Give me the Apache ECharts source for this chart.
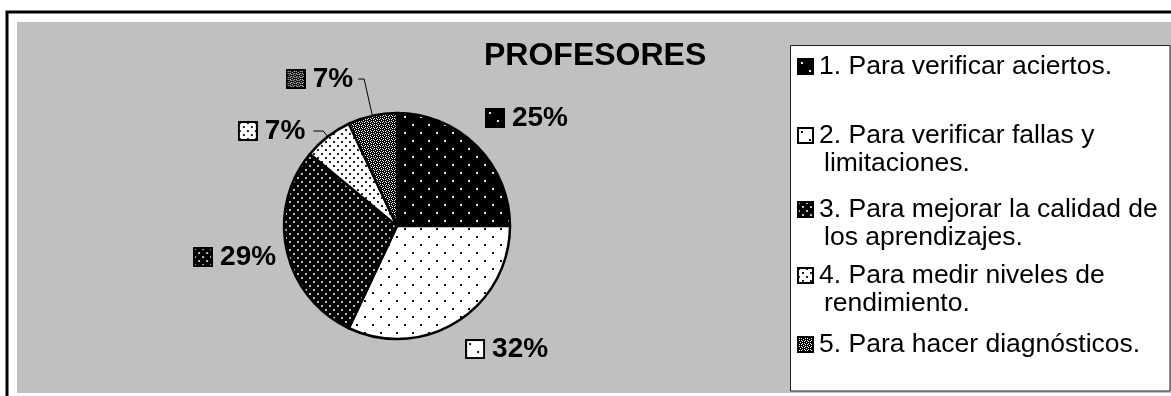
<!DOCTYPE html>
<html>
<head>
<meta charset="utf-8">
<script src="https://cdn.jsdelivr.net/npm/echarts@6/dist/echarts.min.js"></script>
<style>
html,body{margin:0;padding:0;background:#fff;}
#c{width:1171px;height:396px;}
</style>
</head>
<body>
<div id="c"></div>
<script>
// ---- data ----
const titleText = 'PROFESORES';
const categories = [
  '1. Para verificar aciertos.',
  '2. Para verificar fallas y limitaciones.',
  '3. Para mejorar la calidad de los aprendizajes.',
  '4. Para medir niveles de rendimiento.',
  '5. Para hacer diagnósticos.'
];
const legendLines = [
  ['1. Para verificar aciertos.'],
  ['2. Para verificar fallas y', 'limitaciones.'],
  ['3. Para mejorar la calidad de', 'los aprendizajes.'],
  ['4. Para medir niveles de', 'rendimiento.'],
  ['5. Para hacer diagnósticos.']
];
const values = [25, 32, 29, 7, 7];

// ---- patterns ----
const FONT = "'Liberation Sans', Arial, Helvetica, sans-serif";
function makeTile(type) {
  const c = document.createElement('canvas');
  const ctx = c.getContext('2d');
  if (type === 0 || type === 1) {
    c.width = 16; c.height = 16;
    ctx.fillStyle = type === 0 ? '#000' : '#fff';
    ctx.fillRect(0, 0, 16, 16);
    ctx.fillStyle = type === 0 ? '#e8e8e8' : '#111';
    ctx.fillRect(4, 4, 2, 2);
    ctx.fillRect(12, 12, 2, 2);
  } else if (type === 2 || type === 3) {
    c.width = 8; c.height = 8;
    ctx.fillStyle = type === 2 ? '#000' : '#fff';
    ctx.fillRect(0, 0, 8, 8);
    ctx.fillStyle = type === 2 ? '#bdbdbd' : '#222';
    ctx.fillRect(1, 1, 2, 2);
    ctx.fillRect(5, 5, 2, 2);
  } else {
    c.width = 6; c.height = 6;
    const img = ctx.createImageData(6, 6);
    for (let y = 0; y < 6; y++) {
      for (let x = 0; x < 6; x++) {
        const a = (x + y) % 6, b = ((x - y) % 6 + 6) % 6;
        let v = (a === 0 || b === 0) ? 255 : 0;
        if ((x === 0 && y === 0) || (x === 3 && y === 3)) v = 0;
        if (a === 3 && b === 3) v = 255;
        const k = (y * 6 + x) * 4;
        img.data[k] = img.data[k + 1] = img.data[k + 2] = v;
        img.data[k + 3] = 255;
      }
    }
    ctx.putImageData(img, 0, 0);
  }
  return c;
}
const tiles = values.map((v, i) => makeTile(i));
function makeIcon(i, s) {
  const c = document.createElement('canvas');
  c.width = s; c.height = s;
  const ctx = c.getContext('2d');
  ctx.fillStyle = ctx.createPattern(tiles[i], 'repeat');
  ctx.fillRect(0, 0, s, s);
  ctx.strokeStyle = '#000';
  ctx.lineWidth = 2;
  ctx.strokeRect(1, 1, s - 2, s - 2);
  return c;
}
const labelIcons = values.map((v, i) => makeIcon(i, 20));
const legendIcons = values.map((v, i) => makeIcon(i, 17));

// ---- label guide geometry (library outside-label layout) ----
const labelLineCfg = [
  { show: false, length: 39.7, length2: -25 },
  { show: false, length: 32.7, length2: -15 },
  { show: false, length: 29.3, length2: -23 },
  { show: true, length: 7.2, length2: 10 },
  { show: true, length: 37.6, length2: 6 }
];
const labelDist = [5, 5, 5, 8, 5];
const legendCenters = [67, 136, 210, 276, 345];

const labelRich = { v: { fontSize: 28, fontWeight: 'bold', fontFamily: FONT, color: '#000', padding: [0, 0, 0, 7] } };
labelIcons.forEach((c, i) => { labelRich['i' + i] = { width: 20, height: 20, backgroundColor: { image: c } }; });
const legendRich = {
  t: { fontSize: 26.5, fontFamily: FONT, color: '#000', lineHeight: 28, padding: [0, 0, 0, 5] },
  sp: { width: 22, lineHeight: 28 }
};
legendIcons.forEach((c, i) => { legendRich['ic' + i] = { width: 17, height: 17, backgroundColor: { image: c } }; });

const chart = echarts.init(document.getElementById('c'), null, { renderer: 'canvas' });
chart.setOption({
  animation: false,
  backgroundColor: '#fff',
  title: {
    text: titleText, left: 484, top: 40.5, padding: 0,
    textStyle: { fontSize: 32, fontWeight: 'bold', fontFamily: FONT, color: '#000' }
  },
  graphic: {
    elements: [
      { type: 'rect', z: -20, silent: true, shape: { x: 17, y: 22, width: 1160, height: 371 }, style: { fill: '#c0c0c0' } },
      { type: 'polyline', z: -19, silent: true, shape: { points: [[7, 400], [7, 12], [1175, 12]] }, style: { stroke: '#000', lineWidth: 3, fill: null } },
      { type: 'rect', z: -18, silent: true, shape: { x: 790.5, y: 45.5, width: 379.5, height: 345.5 }, style: { fill: '#fff', stroke: '#222', lineWidth: 1 } }
    ]
  },
  legend: categories.map((name, i) => ({
    orient: 'vertical', left: 791, top: legendCenters[i] - 14, padding: 0,
    itemWidth: 0, itemHeight: 0, itemGap: 0, selectedMode: false,
    data: [name],
    formatter: n => legendLines[categories.indexOf(n)]
      .map((l, k) => (k === 0 ? '{ic' + categories.indexOf(n) + '|}' : '{sp|}') + '{t|' + l + '}').join('\n'),
    textStyle: { color: '#000', rich: legendRich }
  })),
  series: [{
    type: 'pie',
    center: [397, 226],
    radius: 113,
    startAngle: 90,
    clockwise: true,
    avoidLabelOverlap: false,
    silent: true,
    itemStyle: { borderColor: '#000', borderWidth: 2.5 },
    label: {
      show: true, position: 'outside', color: '#000',
      formatter: p => '{i' + p.dataIndex + '|}{v|' + p.value + '%}',
      rich: labelRich
    },
    labelLine: { lineStyle: { color: '#000', width: 1 }, smooth: false },
    data: values.map((v, i) => ({
      name: categories[i],
      value: v,
      itemStyle: { color: { image: tiles[i], repeat: 'repeat' } },
      label: { distanceToLabelLine: labelDist[i] },
      labelLine: labelLineCfg[i]
    }))
  }]
});
</script>
</body>
</html>
